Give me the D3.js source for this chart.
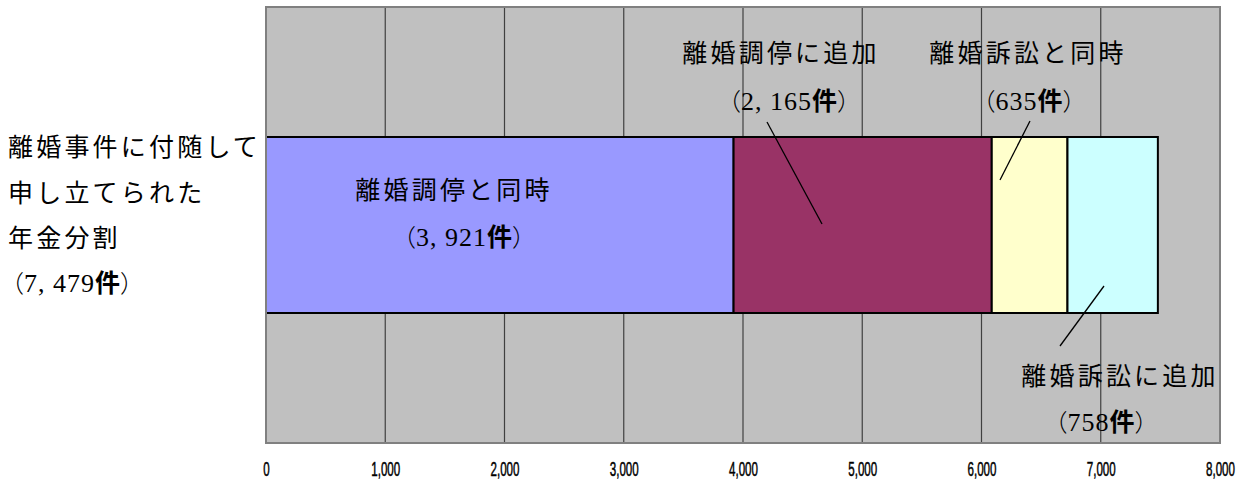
<!DOCTYPE html>
<html>
<head>
<meta charset="utf-8">
<script src="https://cdn.jsdelivr.net/npm/d3@7"></script>
<style>
  body { margin: 0; background: #fff; }
  .jp { font-family: "Noto Sans CJK JP", sans-serif; font-size: 25px; letter-spacing: 3.2px; fill: #000; }
  .num { font-family: "Liberation Serif", serif; font-size: 26px; fill: #000; }
</style>
</head>
<body>
<script>
// data
const segments = ["離婚調停と同時", "離婚調停に追加", "離婚訴訟と同時", "離婚訴訟に追加"]
const counts = [3921, 2165, 635, 758]
const colors = ["#9999FF", "#993366", "#FFFFCC", "#CCFFFF"]
const total = 7479
const totalLabel = ["離婚事件に付随して", "申し立てられた", "年金分割"]
const xTicks = [0, 1000, 2000, 3000, 4000, 5000, 6000, 7000, 8000]

const width = 1251,
    height = 481

const svg = d3.select('body').append('svg')
  .attr('width', width)
  .attr('height', height)

const x = d3.scaleLinear().domain([0, 8000]).range([266, 1220])
const y = d3.scaleBand().domain(["年金分割"]).range([7, 443]).paddingInner(0).paddingOuter(0.7386)

// plot background
svg.append('rect')
  .attr('x', x(0)).attr('y', 7)
  .attr('width', x(8000) - x(0)).attr('height', 436)
  .style('fill', '#C0C0C0')

// vertical gridlines
svg.selectAll('.grid')
  .data(xTicks.slice(1, -1))
  .enter().append('line')
  .attr('class', 'grid')
  .attr('x1', d => x(d)).attr('x2', d => x(d))
  .attr('y1', 7).attr('y2', 443)
  .style('stroke', '#404040')
  .style('stroke-width', 1.2)

// stacked bar
let start = 0
const stack = counts.map((v, i) => {
  const s = { name: segments[i], value: v, x0: start, x1: start + v, color: colors[i] }
  start += v
  return s
})

svg.selectAll('.seg')
  .data(stack)
  .enter().append('rect')
  .attr('class', 'seg')
  .attr('x', d => x(d.x0))
  .attr('y', y("年金分割"))
  .attr('width', d => x(d.x1) - x(d.x0))
  .attr('height', y.bandwidth())
  .style('fill', d => d.color)
  .style('stroke', '#000')
  .style('stroke-width', 2)

// plot border
svg.append('rect')
  .attr('x', x(0)).attr('y', 7)
  .attr('width', x(8000) - x(0)).attr('height', 436)
  .style('fill', 'none')
  .style('stroke', '#808080')
  .style('stroke-width', 2)

// x axis (narrow condensed labels)
const axis = svg.append('g')
  .attr('transform', 'translate(0,476)')
  .call(d3.axisBottom(x).tickValues(xTicks).tickFormat(d3.format(',')).tickSize(0))
axis.select('.domain').remove()
axis.selectAll('text')
  .attr('y', 0).attr('dy', 0)
  .style('font-family', '"Liberation Sans", Arial, sans-serif')
  .style('font-size', '20px')
  .style('fill', '#000')
  .style('stroke', '#000')
  .style('stroke-width', 0.5)
  .attr('transform', 'scale(0.58,1)')

// number label "（n件）"
function countText(g, n, cx, by) {
  const t = g.append('text').attr('class', 'num')
    .attr('x', cx).attr('y', by).attr('text-anchor', 'middle')
  t.append('tspan').style('font-family', '"Noto Sans CJK JP", sans-serif').style('font-size', '24px').style('font-weight', 300).text('（')
  t.append('tspan').style('letter-spacing', '1px').text(d3.format(',')(n).replace(',', ', '))
  t.append('tspan').style('font-family', '"Noto Sans CJK JP", sans-serif').style('font-size', '25px').style('font-weight', 'bold').text('件')
  t.append('tspan').style('font-family', '"Noto Sans CJK JP", sans-serif').style('font-size', '24px').style('font-weight', 300).text('）')
  return t
}

// left total label
totalLabel.forEach((s, i) => {
  svg.append('text').attr('class', 'jp')
    .attr('x', 8).attr('y', 156 + i * 45.5)
    .text(s)
})
countText(svg, total, 0, 292)
  .attr('text-anchor', 'start').attr('x', 0)

// segment annotations: text center, baselines, and leader lines
const notes = [
  { cx: 454, by: 199, ncx: 464, nby: 246, line: null },
  { cx: 781, by: 62, ncx: 789, nby: 110, line: [767, 122, 822, 224] },
  { cx: 1028, by: 62, ncx: 1029, nby: 110, line: [1030, 121, 1000, 180] },
  { cx: 1120, by: 385, ncx: 1101, nby: 431, line: [1104, 286, 1060, 346] }
]

notes.forEach((n, i) => {
  svg.append('text').attr('class', 'jp')
    .attr('x', n.cx).attr('y', n.by).attr('text-anchor', 'middle')
    .text(segments[i])
  countText(svg, counts[i], n.ncx, n.nby)
  if (n.line) {
    svg.append('line')
      .attr('x1', n.line[0]).attr('y1', n.line[1])
      .attr('x2', n.line[2]).attr('y2', n.line[3])
      .style('stroke', '#000')
      .style('stroke-width', 1.3)
  }
})
</script>
</body>
</html>
